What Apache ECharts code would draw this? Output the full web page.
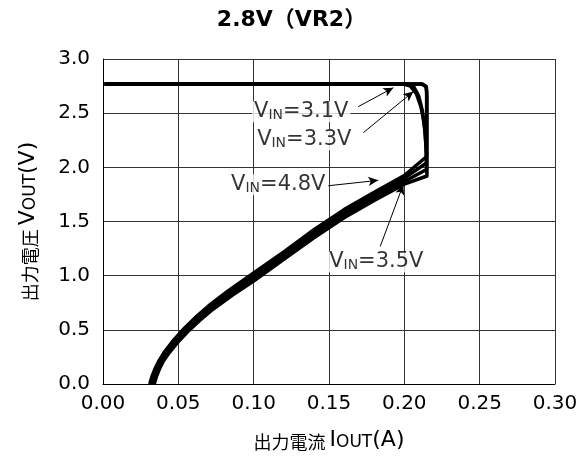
<!DOCTYPE html>
<html>
<head>
<meta charset="utf-8">
<script src="https://cdn.jsdelivr.net/npm/echarts@6/dist/echarts.min.js"></script>
<style>
html,body{margin:0;padding:0;background:#fff;}
#c{width:583px;height:459px;}
</style>
</head>
<body>
<div id="c"></div>
<script>
// ---- data (I in A, V in V) ----
const titleText = '2.8V（VR2）';
const xName = '出力電流';
const yName = '出力電圧';

const vin48 = [[0.031,0],[0.0325,0.07],[0.0345,0.14],[0.037,0.21],[0.041,0.30],[0.046,0.39],[0.053,0.50],[0.061,0.61],[0.070,0.72],[0.083,0.86],[0.10,1.025],[0.12,1.22],[0.14,1.425],[0.16,1.61],[0.18,1.77],[0.20,1.925],[0.2148,2.10],[0.2148,2.40],[0.2148,2.70],[0.2143,2.75],[0.211,2.77],[0.001,2.77]];
const vin31 = [[0.032,0],[0.0335,0.08],[0.0355,0.15],[0.038,0.22],[0.042,0.305],[0.047,0.39],[0.054,0.50],[0.062,0.605],[0.071,0.71],[0.084,0.85],[0.10,1.0],[0.12,1.197],[0.14,1.40],[0.16,1.585],[0.18,1.745],[0.20,1.90],[0.2147,2.04],[0.2143,2.22],[0.2133,2.40],[0.211,2.56],[0.208,2.68],[0.204,2.75],[0.199,2.77],[0.001,2.77]];
const vin33 = [[0.033,0],[0.0345,0.08],[0.0365,0.15],[0.039,0.22],[0.043,0.30],[0.048,0.385],[0.055,0.49],[0.063,0.595],[0.072,0.70],[0.085,0.835],[0.10,0.975],[0.12,1.173],[0.14,1.375],[0.16,1.56],[0.18,1.72],[0.20,1.87],[0.2147,1.98],[0.2147,2.12],[0.2138,2.32],[0.212,2.52],[0.2095,2.66],[0.206,2.75],[0.202,2.77],[0.001,2.77]];
const vin35 = [[0.034,0],[0.0355,0.07],[0.0375,0.14],[0.040,0.21],[0.044,0.29],[0.049,0.375],[0.056,0.48],[0.064,0.585],[0.073,0.69],[0.086,0.82],[0.10,0.95],[0.12,1.15],[0.14,1.35],[0.16,1.535],[0.18,1.695],[0.20,1.845],[0.215,1.92],[0.215,2.20],[0.215,2.65],[0.2146,2.74],[0.212,2.77],[0.001,2.77]];

// annotation labels: [I, V, text]
const labelPos = [[0.1316,2.513,'3.1V'],[0.1336,2.255,'3.3V'],[0.1163,1.84,'4.8V'],[0.1814,1.129,'3.5V']];
// arrows: [fromI, fromV, toI, toV]
const arrows = [[0.1694,2.56,0.1927,2.735],[0.1728,2.32,0.206,2.70],[0.1495,1.83,0.1827,1.88],[0.184,1.27,0.1993,1.84]];

const LAT = '"DejaVu Sans", "Noto Sans CJK JP", sans-serif';
const CJK = '"Noto Sans CJK JP", sans-serif';

const chart = echarts.init(document.getElementById('c'), null, {renderer:'canvas'});

function curve(name, d){
  return {name:name,type:'line',data:d,showSymbol:false,symbol:'none',
    lineStyle:{color:'#000',width:3.5,join:'round'},z:3,animation:false};
}
const nameRich = {
  c:{fontFamily:CJK,fontSize:18,color:'#000',verticalAlign:'bottom'},
  l:{fontFamily:LAT,fontSize:22,color:'#000',verticalAlign:'bottom'},
  s:{fontFamily:LAT,fontSize:17,color:'#000',verticalAlign:'bottom'}
};

const option = {
  animation:false,
  backgroundColor:'#fff',
  title:{text:titleText,left:'center',top:4,
    textStyle:{fontFamily:LAT,fontWeight:'bold',fontSize:22,color:'#000'}},
  grid:{left:103,right:28,top:59,bottom:75,containLabel:false},
  xAxis:{type:'value',min:0,max:0.3,interval:0.05,
    nameLocation:'middle',nameGap:45,
    nameTextStyle:{rich:nameRich},
    axisLine:{lineStyle:{color:'#000',width:1}},
    axisTick:{show:false},
    axisLabel:{formatter:v=>v.toFixed(2),fontFamily:LAT,fontSize:20,color:'#000',margin:10},
    splitLine:{show:true,lineStyle:{color:'#333',width:1}}},
  yAxis:{type:'value',min:0,max:3,interval:0.5,
    nameLocation:'middle',nameGap:64,nameRotate:90,
    nameTextStyle:{rich:nameRich},
    axisLine:{show:true,lineStyle:{color:'#000',width:1}},
    axisTick:{show:false},
    axisLabel:{formatter:v=>v.toFixed(1),fontFamily:LAT,fontSize:20,color:'#000',margin:13},
    splitLine:{show:true,lineStyle:{color:'#333',width:1}}},
  series:[
    curve('3.1V',vin31),curve('3.3V',vin33),curve('3.5V',vin35),
    Object.assign(curve('4.8V',vin48),{
      markLine:{silent:true,animation:false,symbol:['none','arrow'],symbolSize:[7,10],
        label:{show:false},lineStyle:{color:'#000',width:1,type:'solid'},
        data:arrows.map(a=>[{coord:[a[0],a[1]]},{coord:[a[2],a[3]]}])}
    }),
    {type:'scatter',symbolSize:0,z:2,animation:false,silent:true,
      data:labelPos.map(p=>({value:[p[0],p[1]],txt:p[2]})),
      label:{show:true,position:'inside',backgroundColor:'#fff',padding:[0,2,0,2],
        formatter:p=>'{v|V}{s|IN}{v|='+p.data.txt+'}',
        rich:{v:{fontFamily:LAT,fontSize:21,color:'#000',verticalAlign:'bottom'},
              s:{fontFamily:LAT,fontSize:14,color:'#000',verticalAlign:'bottom'}}}}
  ]
};
option.xAxis.name = '{c|' + xName + ' }{l|I}{s|OUT}{l|(A)}';
option.yAxis.name = '{c|' + yName + ' }{l|V}{s|OUT}{l|(V)}';
chart.setOption(option);
</script>
</body>
</html>
